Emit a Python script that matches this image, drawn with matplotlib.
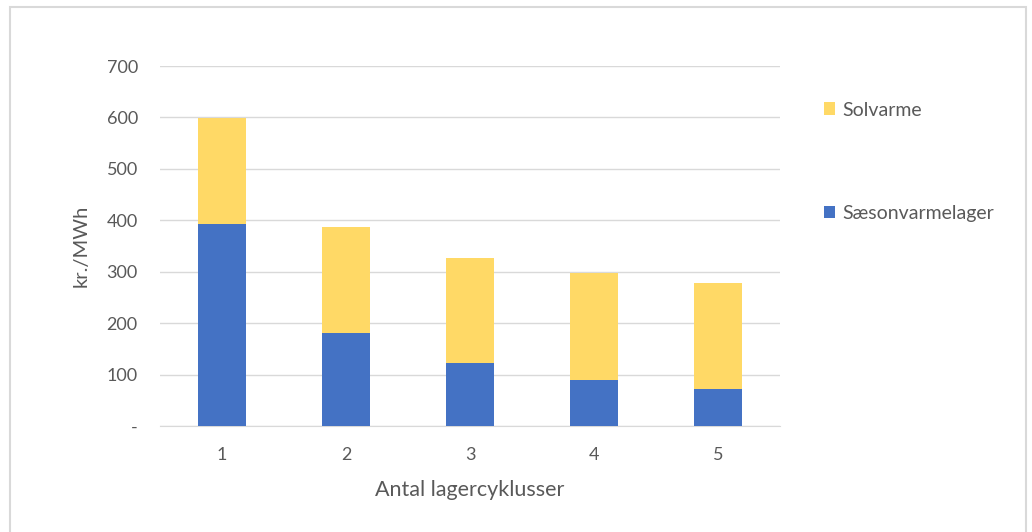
import matplotlib.pyplot as plt
from matplotlib.patches import Rectangle

# data
cycles = ["1", "2", "3", "4", "5"]
saeson = [393, 181, 122, 89, 72]
solvarme = [206, 206, 205, 208, 206]
yticks = [0, 100, 200, 300, 400, 500, 600, 700]
ylabels = ["-", "100", "200", "300", "400", "500", "600", "700"]

blue = "#4472C4"
yellow = "#FFD966"
grey = "#595959"

plt.rcParams["font.family"] = ["Lato", "DejaVu Sans"]

fig = plt.figure(figsize=(10.32, 5.32), dpi=100)
W, H = 1032, 532
# axes box in pixels: x 160..780, y 66..426
ax = fig.add_axes([160 / W, 1 - 426 / H, 620 / W, 360 / H])

# outer chart border
fig.patches.append(Rectangle((10 / W, -0.05), 1016 / W, 1 - 7 / H + 0.05,
                             transform=fig.transFigure, fill=False,
                             edgecolor="#d9d9d9", linewidth=1.5))

x = range(len(cycles))
ax.bar(x, saeson, width=0.39, color=blue, label="Sæsonvarmelager", zorder=3)
ax.bar(x, solvarme, width=0.39, bottom=saeson, color=yellow, label="Solvarme", zorder=3)

ax.set_xlim(-0.5, 4.5)
ax.set_ylim(0, 700)
ax.set_yticks(yticks)
ax.set_yticklabels(ylabels)
ax.set_xticks(list(x))
ax.set_xticklabels(cycles)
ax.grid(axis="y", color="#d9d9d9", linewidth=1, zorder=0)
for s in ["top", "right", "left"]:
    ax.spines[s].set_visible(False)
ax.spines["bottom"].set_color("#d9d9d9")
ax.tick_params(axis="both", length=0, colors=grey, labelsize=13)
ax.tick_params(axis="y", pad=16)
ax.tick_params(axis="x", pad=15)

ax.set_ylabel("kr./MWh", color=grey, fontsize=14.5, labelpad=12)
ax.set_xlabel("Antal lagercyklusser", color=grey, fontsize=15.5, labelpad=12)

h, l = ax.get_legend_handles_labels()
leg = fig.legend(h[::-1], l[::-1], loc="upper left",
                 bbox_to_anchor=(806 / W, 1 - 84 / H), frameon=False,
                 fontsize=14, labelspacing=4.45, handlelength=0.6,
                 handleheight=0.6, handletextpad=0.35)
for t in leg.get_texts():
    t.set_color(grey)

fig.savefig("out.png", dpi=100)
